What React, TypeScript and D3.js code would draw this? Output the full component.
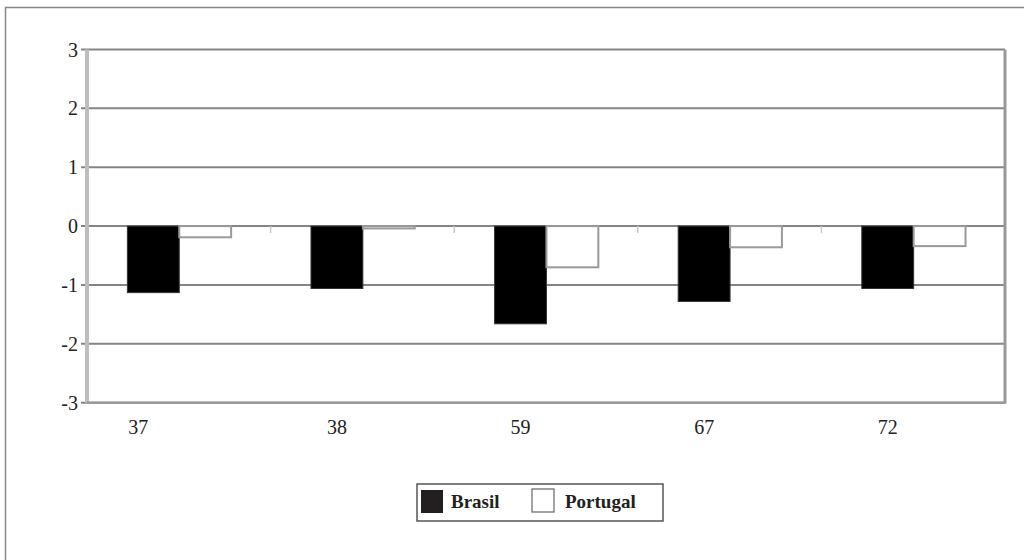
import * as d3 from "d3";

const categories = ["37", "38", "59", "67", "72"];
const seriesNames = ["Brasil", "Portugal"];
const brasil = [-1.13, -1.06, -1.66, -1.28, -1.06];
const portugal = [-0.19, -0.04, -0.7, -0.36, -0.34];
const yTicks = [3, 2, 1, 0, -1, -2, -3];

const W = 1024;
const H = 560;
const left = 87;
const right = 1005;
const top = 49.5;
const bottom = 402.7;

const font = "Liberation Serif, serif";

export default function App() {
    const x0 = d3.scaleBand<string>()
        .domain(categories)
        .range([left, right])
        .padding(0);

    const bw = x0.bandwidth();
    const x1 = d3.scaleBand<string>()
        .domain(seriesNames)
        .range([bw * 0.22, bw * 0.785])
        .padding(0);

    const y = d3.scaleLinear()
        .domain([-3, 3])
        .range([bottom, top]);

    const values: Record<string, number[]> = { Brasil: brasil, Portugal: portugal };

    return (
        <svg width={W} height={H} style={{ position: "absolute", left: 0, top: 0, background: "#fff", fontFamily: font }}>
            {/* outer frame */}
            <rect x={5.5} y={7.5} width={W + 10} height={H + 10} fill="none" stroke="#888" strokeWidth={1.5} />

            {/* gridlines */}
            {yTicks.map(t => (
                <line key={"g" + t} x1={left - 6} x2={right} y1={y(t)} y2={y(t)} stroke="#858585" strokeWidth={2} />
            ))}

            {/* category ticks on zero line */}
            {categories.slice(1).map(c => (
                <line key={"ct" + c} x1={x0(c)} x2={x0(c)} y1={y(0)} y2={y(0) + 7} stroke="#c8c8c8" strokeWidth={1.5} />
            ))}

            {/* bars */}
            {categories.map((c, i) => (
                <g key={c} transform={`translate(${x0(c)},0)`}>
                    {seriesNames.map(s => {
                        const v = values[s][i];
                        const y0 = y(0);
                        const y1 = y(v);
                        return (
                            <rect
                                key={s}
                                x={x1(s)}
                                y={Math.min(y0, y1)}
                                width={x1.bandwidth()}
                                height={Math.abs(y1 - y0)}
                                fill={s === "Brasil" ? "#000" : "#fff"}
                                stroke={s === "Brasil" ? "#333" : "#9a9a9a"}
                                strokeWidth={s === "Brasil" ? 1 : 2}
                            />
                        );
                    })}
                </g>
            ))}

            {/* left axis and right border */}
            <line x1={left} x2={left} y1={top} y2={bottom} stroke="#bdbdbd" strokeWidth={4} />
            <line x1={right} x2={right} y1={top} y2={bottom + 1} stroke="#999" strokeWidth={3} />
            <line x1={left} x2={right} y1={bottom} y2={bottom} stroke="#9a9a9a" strokeWidth={2.5} />

            {/* y labels */}
            {yTicks.map(t => (
                <text key={"yl" + t} x={78} y={y(t) + 7} textAnchor="end" fontSize={20} fill="#222">
                    {t}
                </text>
            ))}

            {/* x labels */}
            {categories.map(c => (
                <text
                    key={"xl" + c}
                    x={(x0(c) ?? 0) + (x1("Brasil") ?? 0) + x1.bandwidth() / 2 - (c === "37" ? 15 : 0)}
                    y={434}
                    textAnchor="middle"
                    fontSize={20}
                    fill="#222"
                >
                    {c}
                </text>
            ))}

            {/* legend */}
            <g>
                <rect x={417} y={484} width={246} height={37} fill="#fff" stroke="#555" strokeWidth={1.5} />
                <rect x={421} y={490} width={22} height={23} fill="#231f20" />
                <text x={451} y={508} fontSize={19} fontWeight="bold" fill="#231f20">
                    {seriesNames[0]}
                </text>
                <rect x={532} y={489} width={22} height={23} fill="#fff" stroke="#666" strokeWidth={1.2} />
                <text x={565} y={508} fontSize={19} fontWeight="bold" fill="#231f20">
                    {seriesNames[1]}
                </text>
            </g>
        </svg>
    );
}
